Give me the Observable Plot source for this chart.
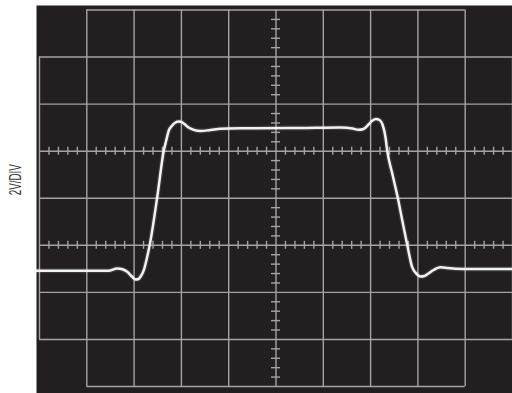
<!DOCTYPE html>
<html><head><meta charset="utf-8">
<script src="https://cdn.jsdelivr.net/npm/d3@7"></script>
<script src="https://cdn.jsdelivr.net/npm/@observablehq/plot@0.6"></script>
<style>body{margin:0;background:#fff;} #chart{width:512px;height:393px;}</style>
</head><body><div id="chart"></div>
<script>
// Axis label
const yLabel = "2V/DIV";
// Graticule (in divisions)
const fullColumns = [1, 2, 3, 4, 5, 6, 7, 8, 9];
const edgeColumns = [0, 10];
const fullRows = [-3, -2, -1, 0, 1, 2, 3];
const edgeRows = [-4, 4];
const tickedRows = [-1, 1];
const tickedColumns = [5];
const subdivisions = 5;
// Trace (x, y in divisions)
const traceX = [-0.063, 0.867, 1.459, 1.643, 1.755, 1.854, 1.960, 2.030, 2.093, 2.135, 2.205, 2.277, 2.332, 2.488, 2.628, 2.679, 2.734, 2.806, 2.875, 2.945, 3.023, 3.087, 3.171, 3.262, 3.404, 3.615, 3.827, 4.249, 5.518, 6.364, 6.617, 6.744, 6.850, 6.956, 7.040, 7.114, 7.188, 7.252, 7.315, 7.351, 7.463, 7.575, 7.674, 7.774, 7.879, 7.985, 8.055, 8.140, 8.224, 8.330, 8.478, 8.626, 8.795, 9.112, 10.0];
const traceY = [-1.542, -1.542, -1.540, -1.493, -1.510, -1.563, -1.669, -1.727, -1.716, -1.669, -1.529, -1.244, -0.983, 0.016, 1.014, 1.227, 1.439, 1.546, 1.609, 1.631, 1.609, 1.556, 1.493, 1.454, 1.429, 1.450, 1.476, 1.486, 1.493, 1.503, 1.482, 1.454, 1.471, 1.567, 1.652, 1.684, 1.663, 1.567, 1.297, 1.014, 0.504, 0.009, -0.494, -0.989, -1.465, -1.620, -1.663, -1.652, -1.599, -1.525, -1.467, -1.482, -1.499, -1.504, -1.504];

const trace = traceX.map((x, i) => ({x, y: traceY[i]}));
const vSegs = fullColumns.map(x => ({x, y1: -4, y2: 4}))
  .concat(edgeColumns.map(x => ({x, y1: -3, y2: 3})));
const hSegs = fullRows.map(y => ({y, x1: 0, x2: 10}))
  .concat(edgeRows.map(y => ({y, x1: 1, x2: 9})));
const minor = (a, b) => d3.range(a * subdivisions, b * subdivisions + 1)
  .filter(k => k % subdivisions !== 0).map(k => k / subdivisions);
const rowTicks = tickedRows.flatMap(y => minor(0, 10).map(x => ({x, y})));
const colTicks = tickedColumns.flatMap(x => minor(-4, 4).map(y => ({x, y})));

const gridColor = "#a4a4a4";
const chart = Plot.plot({
  width: 512, height: 393,
  marginLeft: 39, marginRight: 0, marginTop: 9.5, marginBottom: 7,
  x: {domain: [0, 10], axis: null},
  y: {domain: [-4, 4], axis: null},
  style: {background: "transparent", overflow: "visible"},
  marks: [
    Plot.frame({fill: "#231f20", stroke: null, insetLeft: -3, insetTop: -4.5, insetBottom: -7}),
    Plot.ruleX(vSegs, {x: "x", y1: "y1", y2: "y2", stroke: gridColor, strokeWidth: 1.4}),
    Plot.ruleY(hSegs, {y: "y", x1: "x1", x2: "x2", stroke: gridColor, strokeWidth: 1.4}),
    Plot.ruleX(rowTicks, {x: "x", y1: "y", y2: "y", insetTop: -4, insetBottom: -4, stroke: gridColor, strokeWidth: 1.4}),
    Plot.ruleY(colTicks, {y: "y", x1: "x", x2: "x", insetLeft: -4.5, insetRight: -4.5, stroke: gridColor, strokeWidth: 1.4}),
    Plot.line(trace, {x: "x", y: "y", curve: "monotone-x", stroke: "#ffffff", strokeWidth: 5, strokeOpacity: 0.12}),
    Plot.line(trace, {x: "x", y: "y", curve: "monotone-x", stroke: "#f2f2f2", strokeWidth: 2.5}),
    Plot.text([yLabel], {text: d => d, frameAnchor: "left", dx: -24, dy: -3, rotate: -90,
      fontSize: 17, fill: "#333333", fontFamily: "'Liberation Sans Narrow', 'Arial Narrow', 'Liberation Sans', sans-serif"})
  ]
});
document.getElementById("chart").appendChild(chart);
chart.querySelectorAll("text").forEach(t => {
  if (t.textContent === yLabel) {
    t.setAttribute("textLength", "31");
    t.setAttribute("lengthAdjust", "spacingAndGlyphs");
  }
});
</script>
</body></html>
